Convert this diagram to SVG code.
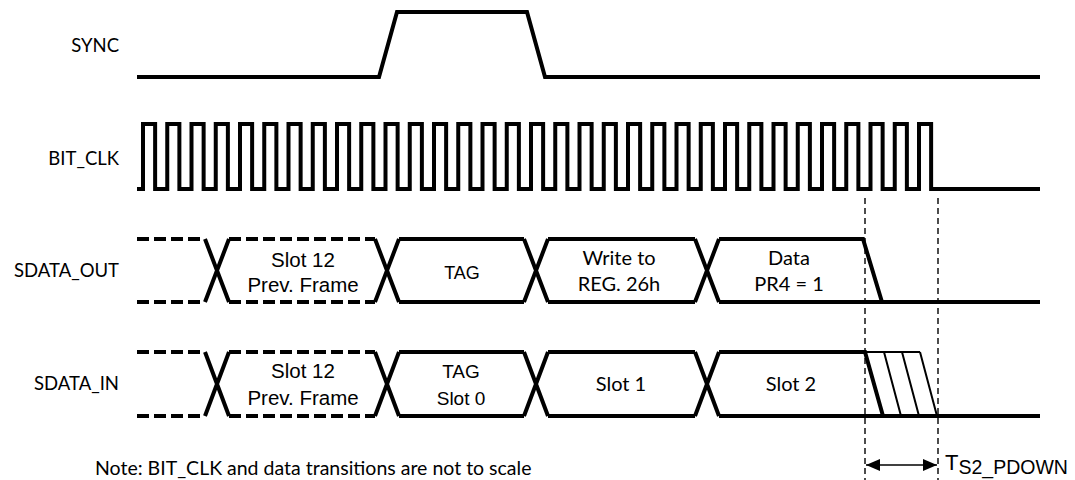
<svg xmlns="http://www.w3.org/2000/svg" width="1075" height="480" viewBox="0 0 1075 480">
<style>
.sig{fill:none;stroke:#000;stroke-width:4;stroke-linejoin:miter;stroke-linecap:butt}
.dash{fill:none;stroke:#000;stroke-width:4;stroke-dasharray:12 5}
.thin{fill:none;stroke:#000;stroke-width:1.6}
.guide{fill:none;stroke:#000;stroke-width:1.4;stroke-dasharray:6 4}
.lbl{font-family:Lato,"Open Sans",sans-serif;font-size:18.5px;fill:#000}
.cal{font-family:Lato,"Open Sans",sans-serif;font-size:20px;fill:#000;text-anchor:middle}
.ari{font-family:"Liberation Sans",Arial,sans-serif;font-size:20.5px;fill:#000;text-anchor:middle}
</style>
<defs>
<marker id="ah" viewBox="0 0 14 12" refX="14" refY="6" markerWidth="14" markerHeight="12" markerUnits="userSpaceOnUse" orient="auto-start-reverse">
<path d="M0,0 L14,6 L0,12 Z" fill="#000"/>
</marker>
</defs>
<rect width="1075" height="480" fill="#fff"/>

<g id="labels">
<text class="lbl" x="119" y="52" text-anchor="end">SYNC</text>
<text class="lbl" x="119" y="165" text-anchor="end">BIT_CLK</text>
<text class="lbl" x="119" y="277" text-anchor="end">SDATA_OUT</text>
<text class="lbl" x="119" y="390" text-anchor="end">SDATA_IN</text>
</g>

<g id="sync">
<path class="sig" d="M137,77 H379 L397,12 H527 L545,77 H1040"/>
</g>

<g id="bit_clk">
<path class="sig" d="M137,189 H143
v-65 h12.125 v65 h12.125 v-65 h12.125 v65 h12.125 v-65 h12.125 v65 h12.125 v-65 h12.125 v65 h12.125
v-65 h12.125 v65 h12.125 v-65 h12.125 v65 h12.125 v-65 h12.125 v65 h12.125 v-65 h12.125 v65 h12.125
v-65 h12.125 v65 h12.125 v-65 h12.125 v65 h12.125 v-65 h12.125 v65 h12.125 v-65 h12.125 v65 h12.125
v-65 h12.125 v65 h12.125 v-65 h12.125 v65 h12.125 v-65 h12.125 v65 h12.125 v-65 h12.125 v65 h12.125
v-65 h12.125 v65 h12.125 v-65 h12.125 v65 h12.125 v-65 h12.125 v65 h12.125 v-65 h12.125 v65 h12.125
v-65 h12.125 v65 h12.125 v-65 h12.125 v65 h12.125 v-65 h12.125 v65 h12.125 v-65 h12.125 v65 h12.125
v-65 h12.125 v65 h12.125 v-65 h12.125 v65 h12.125 v-65 h12.125 v65 h12.125 v-65 h12.125 v65 h12.125
v-65 h12.125 v65 h12.125 v-65 h12.125 v65 h12.125 v-65 h12.125 v65 h12.125 v-65 h12.125 v65 h12.125
v-65 h12.125 v65 H1040"/>
</g>

<g id="sdata_out">
<path class="dash" d="M137,239 H205 M137,302 H205 M229,239 H375 M229,302 H375"/>
<path class="sig" d="M205,239 L229,302 M205,302 L229,239 M375,239 L399,302 M375,302 L399,239 M399,239 H524 M399,302 H524 M524,239 L548,302 M524,302 L548,239 M548,239 H695 M548,302 H695 M695,239 L719,302 M695,302 L719,239 M719,239 H863 L882,302 M719,302 H1040"/>
<text class="ari" x="303" y="267">Slot 12</text>
<text class="ari" x="303" y="292">Prev. Frame</text>
<text class="ari" x="462" y="279" style="font-size:18px">TAG</text>
<text class="cal" x="619" y="265">Write to</text>
<text class="cal" x="619" y="291">REG. 26h</text>
<text class="cal" x="789" y="265">Data</text>
<text class="cal" x="789" y="291">PR4 = 1</text>
</g>

<g id="sdata_in">
<path class="dash" d="M137,352 H205 M137,416 H205 M229,352 H375 M229,416 H375"/>
<path class="sig" d="M205,352 L229,416 M205,416 L229,352 M375,352 L399,416 M375,416 L399,352 M399,352 H524 M399,416 H524 M524,352 L548,416 M524,416 L548,352 M548,352 H695 M548,416 H695 M695,352 L719,416 M695,416 L719,352 M719,352 H865 L883,416 M719,416 H1040"/>
<path class="thin" d="M865,352 H920 M884,352 L901,416 M902,352 L919,416 M920,352 L937,416" style="stroke-width:2"/>
<text class="ari" x="303" y="378">Slot 12</text>
<text class="ari" x="303" y="405">Prev. Frame</text>
<text class="ari" x="461" y="378" style="font-size:19px">TAG</text>
<text class="ari" x="461" y="405" style="font-size:19px">Slot 0</text>
<text class="cal" x="621" y="391">Slot 1</text>
<text class="cal" x="791" y="391">Slot 2</text>
</g>

<g id="connectors">
<path class="guide" d="M865,198 V480 M938,198 V480"/>
<path class="thin" d="M866,465 H937" marker-start="url(#ah)" marker-end="url(#ah)"/>
</g>

<g id="timing_label">
<text x="945" y="470" style="font-family:'Liberation Sans',Arial,sans-serif;font-size:22px">T<tspan dy="4" style="font-size:19.5px">S2_PDOWN</tspan></text>
</g>

<g id="note">
<text class="lbl" x="95" y="475" style="font-size:19.5px">Note:  BIT_CLK and data transitions are not to scale</text>
</g>
</svg>
